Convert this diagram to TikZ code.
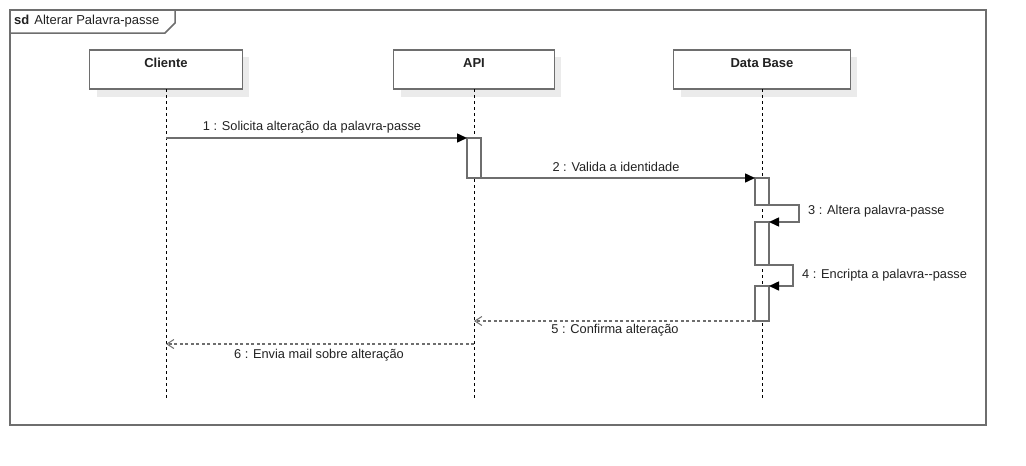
\documentclass[tikz,border=0pt]{standalone}
\usepackage{fontspec}
\setmainfont{Liberation Sans}
\usetikzlibrary{arrows.meta,calc}
\definecolor{edgegray}{HTML}{6E6E6E}
\definecolor{shadowgray}{HTML}{EBEBEB}
\definecolor{inkgray}{HTML}{222222}
\tikzset{
  lbl/.style={font=\fontsize{12.8}{14}\selectfont, text=inkgray, inner sep=0pt},
  headbox/.style={draw=edgegray, line width=1.5pt, fill=white, minimum width=#1,
    inner xsep=0pt, inner ysep=0pt, outer sep=0pt, text height=17pt, text depth=22pt,
    font=\bfseries\fontsize{13}{15}\selectfont, text=inkgray},
  headshadow/.style={fill=shadowgray, draw=none},
  lifeline/.style={draw=black, line width=0.9pt, dash pattern=on 3pt off 3pt},
  actbox/.style={draw=edgegray, line width=1.5pt, fill=white, minimum width=14pt,
    minimum height=#1, inner sep=0pt, outer sep=0pt},
  syncmsg/.style={draw=edgegray, line width=1.5pt,
    -{Triangle[length=10pt,width=9pt,color=black,fill=black]}},
  retmsg/.style={draw=edgegray, line width=1.3pt, dash pattern=on 3pt off 2.5pt,
    -{Straight Barb[length=7pt,width=9pt,line width=1pt]}},
}
\begin{document}
\begin{tikzpicture}[x=1pt,y=-1pt]
\useasboundingbox (0,0) rectangle (1026,466);
\fill[white] (0,0) rectangle (1026,466);

% outer frame with its name tab
\draw[edgegray, line width=1.5pt] (10,10) rectangle (986,425);
\draw[edgegray, line width=1.5pt] (10,33) -- (165,33) -- (175,23) -- (175,10);
\node[lbl, anchor=west, font=\fontsize{13}{15}\selectfont] (title) at (14,21.5)
  {\textbf{sd}\hspace{5pt}Alterar Palavra-passe};

% shadows of the participant heads
\fill[headshadow] (97,57) rectangle (249,97);
\fill[headshadow] (401,57) rectangle (561,97);
\fill[headshadow] (681,57) rectangle (857,97);

% participants
\node[headbox=153pt] (cli) at (166,69.5) {Cliente};
\node[headbox=161pt] (api) at (474,69.5) {API};
\node[headbox=177pt] (db)  at (762,69.5) {Data Base};

% lifelines
\coordinate (cliEnd) at (cli.south |- 0,399);
\coordinate (apiEnd) at (api.south |- 0,399);
\coordinate (dbEnd)  at (db.south |- 0,399);
\draw[lifeline] (cli.south) -- (cliEnd);
\draw[lifeline] (api.south) -- (apiEnd);
\draw[lifeline] (db.south) -- (dbEnd);

% activation bars
\node[actbox=40pt, anchor=north] (apiA) at (api.south |- 0,138) {};
\node[actbox=27pt, anchor=north] (dbA)  at (db.south |- 0,178) {};
\node[actbox=43pt, anchor=north] (dbB)  at (db.south |- 0,222) {};
\node[actbox=35pt, anchor=north] (dbC)  at (db.south |- 0,286) {};

% message end points on lifelines
\coordinate (cliM1) at (cli.south |- 0,138);
\coordinate (apiM5) at (api.south |- 0,321);
\coordinate (apiM6) at (api.south |- 0,344);
\coordinate (cliM6) at (cli.south |- 0,344);

% messages
\draw[syncmsg] (cliM1) -- (apiA.north west);
\node[lbl] (l1) at (312,127) {1 : Solicita alteração da palavra-passe};

\draw[syncmsg] (apiA.south east) -- (dbA.north west);
\node[lbl] (l2) at (616,167) {2 : Valida a identidade};

\draw[syncmsg] (dbA.south east) -- ++(30,0) |- (dbB.north east);
\node[lbl, anchor=west] (l3) at (808,211.5) {3 : Altera palavra-passe};

\draw[syncmsg] (dbB.south east) -- ++(24,0) |- (dbC.north east);
\node[lbl, anchor=west] (l4) at (802,275) {4 : Encripta a palavra-{}-passe};

\draw[retmsg] (dbC.south west |- apiM5) -- (apiM5);
\node[lbl] (l5) at (615,330.5) {5 : Confirma alteração};

\draw[retmsg] (apiM6) -- (cliM6);
\node[lbl] (l6) at (319,355) {6 : Envia mail sobre alteração};
\end{tikzpicture}
\end{document}
